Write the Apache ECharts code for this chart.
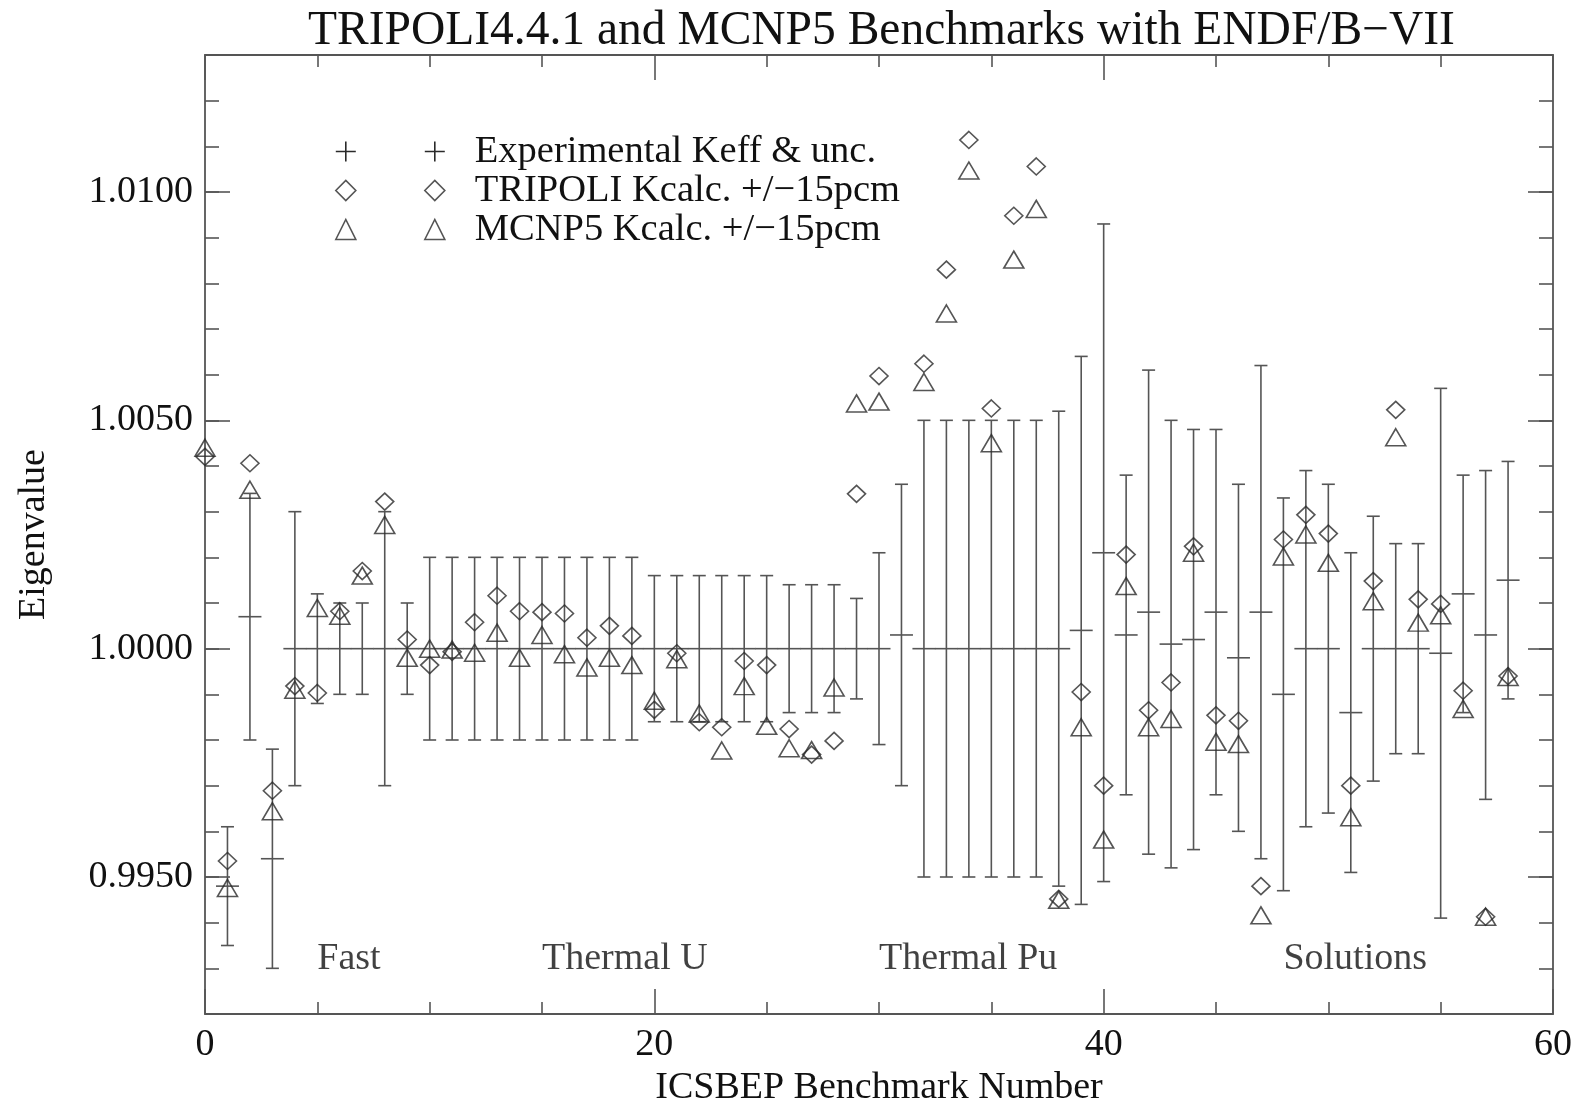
<!DOCTYPE html>
<html><head><meta charset="utf-8">
<script src="https://cdn.jsdelivr.net/npm/echarts@6/dist/echarts.min.js"></script>
<style>html,body{margin:0;padding:0;background:#fff}#c{width:1590px;height:1104px}</style>
</head><body><div id="c"></div>
<script>
// ICSBEP benchmark numbers
const benchmarkNumbers = [0,1,2,3,4,5,6,7,8,9,10,11,12,13,14,15,16,17,18,19,20,21,22,23,24,25,26,27,28,29,30,31,32,33,34,35,36,37,38,39,40,41,42,43,44,45,46,47,48,49,50,51,52,53,54,55,56,57,58];
// Experimental Keff and its uncertainty
const expKeff = [null,0.9948,1.0007,0.9954,1.0000,1.0000,1.0000,1.0000,1.0000,1.0000,
  1.0000,1.0000,1.0000,1.0000,1.0000,1.0000,1.0000,1.0000,1.0000,1.0000,
  1.0000,1.0000,1.0000,1.0000,1.0000,1.0000,1.0000,1.0000,1.0000,1.0000,
  1.0000,1.0003,1.0000,1.0000,1.0000,1.0000,1.0000,1.0000,1.0000,1.0004,
  1.0021,1.0003,1.0008,1.0001,1.0002,1.0008,0.9998,1.0008,0.9990,1.0000,
  1.0000,0.9986,1.0000,1.0000,1.0000,0.9999,1.0012,1.0003,1.0015];
const expUnc = [null,0.0013,0.0027,0.0024,0.0030,0.0012,0.0010,0.0010,0.0030,0.0010,
  0.0020,0.0020,0.0020,0.0020,0.0020,0.0020,0.0020,0.0020,0.0020,0.0020,
  0.0016,0.0016,0.0016,0.0016,0.0016,0.0016,0.0014,0.0014,0.0014,0.0011,
  0.0021,0.0033,0.0050,0.0050,0.0050,0.0050,0.0050,0.0050,0.0052,0.0060,
  0.0072,0.0035,0.0053,0.0049,0.0046,0.0040,0.0038,0.0054,0.0043,0.0039,
  0.0036,0.0035,0.0029,0.0023,0.0023,0.0058,0.0026,0.0036,0.0026];
// TRIPOLI Kcalc
const tripoliKcalc = [1.0042,0.99535,1.00406,0.99689,0.99918,0.99903,1.00082,1.0017,1.00322,1.0002,
  0.99964,0.99993,1.00058,1.00116,1.00082,1.0008,1.00077,1.00024,1.0005,1.00028,
  0.99866,0.9999,0.99839,0.99828,0.99973,0.99964,0.99824,0.99768,0.99798,1.00339,
  1.00597,null,1.00624,1.0083,1.01114,1.00526,1.00948,1.01056,0.99452,0.99905,
  0.9970,1.00206,0.99865,0.99926,1.00224,0.99854,0.99842,0.9948,1.00239,1.00293,
  1.00252,0.9970,1.00148,1.00523,1.00108,1.00098,0.99908,0.99413,0.9994];
// MCNP5 Kcalc
const mcnp5Kcalc = [1.0044,0.99476,1.00348,0.99644,0.9991,1.00089,1.00072,1.0016,1.00271,0.9998,
  1.0000,0.99998,0.99991,1.00035,0.9998,1.0003,0.99988,0.99959,0.9998,0.99964,
  0.99886,0.99977,0.99858,0.99777,0.99918,0.99831,0.99782,0.99778,0.99915,1.00537,
  1.00541,null,1.00584,1.00734,1.01047,1.0045,1.00852,1.00963,0.9945,0.99828,
  0.99582,1.00137,0.99828,0.99846,1.0021,0.99796,0.99791,0.99416,1.00202,1.0025,
  1.00188,0.99631,1.00104,1.00463,1.00057,1.00073,0.99868,0.99413,0.99938];
// axis ticks
const yMajorTicks = [0.995, 1.0, 1.005, 1.01];
const xMajorTicks = [0, 20, 40, 60];
// region annotations
const regionNames = ['Fast', 'Thermal U', 'Thermal Pu', 'Solutions'];
const regionStartX = [5, 15, 30, 48];
const regionLabelY = 0.99278;

const SERIF = "'Liberation Serif','DejaVu Serif','Times New Roman',serif";
const LINE = '#555';
const MARK = '#2a2a2a';

const errData = [];
const triData = [];
const mcnpData = [];
benchmarkNumbers.forEach((n, i) => {
  if (expKeff[i] != null) errData.push([n, expKeff[i], expUnc[i]]);
  if (tripoliKcalc[i] != null) triData.push([n, tripoliKcalc[i]]);
  if (mcnp5Kcalc[i] != null) mcnpData.push([n, mcnp5Kcalc[i]]);
});
const labelData = regionNames.map((nm, i) => ({name: nm, value: [regionStartX[i], regionLabelY]}));

const chart = echarts.init(document.getElementById('c'), null, {renderer: 'canvas'});
const yBase = {type: 'value', min: 0.992, max: 1.013, splitLine: {show: false}};
const option = {
  animation: false,
  backgroundColor: '#fff',
  title: {
    text: 'TRIPOLI4.4.1 and MCNP5 Benchmarks with ENDF/B\u2212VII',
    left: 303, top: 3,
    textStyle: {fontFamily: SERIF, fontSize: 47.5, fontWeight: 'normal', color: '#111'}
  },
  grid: {left: 205, right: 37, top: 55, bottom: 90, outerBoundsMode: 'none'},
  legend: {
    orient: 'vertical', left: 330, top: 127, itemGap: 0, itemWidth: 109, itemHeight: 20,
    selectedMode: false,
    textStyle: {fontFamily: SERIF, fontSize: 38.5, color: '#111', lineHeight: 38.5, padding: [0, 0, 0, 25]},
    data: [
      {name: 'Experimental Keff & unc.', icon: 'path://M0,10L20,10M10,0L10,20M89,10L109,10M99,0L99,20',
        itemStyle: {color: 'rgba(0,0,0,0)', borderColor: MARK, borderWidth: 1.6}},
      {name: 'TRIPOLI Kcalc. +/\u221215pcm', icon: 'path://M0,10L10,0L20,10L10,20ZM89,10L99,0L109,10L99,20Z',
        itemStyle: {color: 'rgba(0,0,0,0)', borderColor: MARK, borderWidth: 1.6}},
      {name: 'MCNP5 Kcalc. +/\u221215pcm', icon: 'path://M0,20L10,0L20,20ZM89,20L99,0L109,20Z',
        itemStyle: {color: 'rgba(0,0,0,0)', borderColor: MARK, borderWidth: 1.6}}
    ]
  },
  xAxis: [
    {type: 'value', position: 'bottom', min: 0, max: 60, interval: 20,
      name: 'ICSBEP Benchmark Number', nameLocation: 'middle', nameGap: 55,
      nameTextStyle: {fontFamily: SERIF, fontSize: 38, color: '#111'},
      axisLine: {show: true, lineStyle: {color: LINE, width: 1.8}},
      axisTick: {show: true, inside: true, length: 25, lineStyle: {color: LINE, width: 1.6}},
      minorTick: {show: true, splitNumber: 4, length: 12, lineStyle: {color: LINE, width: 1.6}},
      axisLabel: {fontFamily: SERIF, fontSize: 38, color: '#111', margin: 12},
      splitLine: {show: false}},
    {type: 'value', position: 'top', min: 0, max: 60, interval: 20,
      axisLine: {show: true, lineStyle: {color: LINE, width: 1.8}},
      axisTick: {show: true, inside: true, length: 25, lineStyle: {color: LINE, width: 1.6}},
      minorTick: {show: true, splitNumber: 4, length: 12, lineStyle: {color: LINE, width: 1.6}},
      axisLabel: {show: false}, splitLine: {show: false}}
  ],
  yAxis: [
    Object.assign({}, yBase, {position: 'left', interval: 0.001,
      name: 'Eigenvalue', nameLocation: 'middle', nameGap: 152,
      nameTextStyle: {fontFamily: SERIF, fontSize: 38, color: '#111'},
      axisLine: {show: true, lineStyle: {color: LINE, width: 1.8}},
      axisTick: {show: true, inside: true, length: 14, lineStyle: {color: LINE, width: 1.6}},
      axisLabel: {fontFamily: SERIF, fontSize: 38, color: '#111', margin: 12,
        formatter: v => (Math.round(v * 1000) % 5 === 0 ? v.toFixed(4) : '')}}),
    Object.assign({}, yBase, {position: 'left',
      axisLine: {show: false},
      axisTick: {show: true, inside: true, length: 25, customValues: yMajorTicks, lineStyle: {color: LINE, width: 1.6}},
      axisLabel: {show: false, customValues: yMajorTicks}}),
    Object.assign({}, yBase, {position: 'right', interval: 0.001,
      axisLine: {show: true, lineStyle: {color: LINE, width: 1.8}},
      axisTick: {show: true, inside: true, length: 14, lineStyle: {color: LINE, width: 1.6}},
      axisLabel: {show: false}}),
    Object.assign({}, yBase, {position: 'right',
      axisLine: {show: false},
      axisTick: {show: true, inside: true, length: 25, customValues: yMajorTicks, lineStyle: {color: LINE, width: 1.6}},
      axisLabel: {show: false, customValues: yMajorTicks}})
  ],
  series: [
    {
      name: 'Experimental Keff & unc.', type: 'custom', xAxisIndex: 0, yAxisIndex: 0,
      data: errData, clip: true,
      renderItem: function (params, api) {
        const x = api.value(0), c = api.value(1), u = api.value(2);
        const top = api.coord([x, c + u]);
        const bot = api.coord([x, c - u]);
        const mid = api.coord([x, c]);
        const st = {stroke: LINE, lineWidth: 1.6};
        return {type: 'group', children: [
          {type: 'line', shape: {x1: top[0], y1: top[1], x2: bot[0], y2: bot[1]}, style: st},
          {type: 'line', shape: {x1: top[0] - 6.5, y1: top[1], x2: top[0] + 6.5, y2: top[1]}, style: st},
          {type: 'line', shape: {x1: bot[0] - 6.5, y1: bot[1], x2: bot[0] + 6.5, y2: bot[1]}, style: st},
          {type: 'line', shape: {x1: mid[0] - 11.5, y1: mid[1], x2: mid[0] + 11.5, y2: mid[1]}, style: st}
        ]};
      }
    },
    {
      name: 'TRIPOLI Kcalc. +/\u221215pcm', type: 'scatter', xAxisIndex: 0, yAxisIndex: 0,
      data: triData, symbol: 'diamond', symbolSize: [18, 17],
      itemStyle: {color: 'rgba(0,0,0,0)', borderColor: MARK, borderWidth: 1.6}
    },
    {
      name: 'MCNP5 Kcalc. +/\u221215pcm', type: 'scatter', xAxisIndex: 0, yAxisIndex: 0,
      data: mcnpData, symbol: 'triangle', symbolSize: [20, 17],
      itemStyle: {color: 'rgba(0,0,0,0)', borderColor: MARK, borderWidth: 1.6}
    },
    {
      name: 'regions', type: 'scatter', xAxisIndex: 0, yAxisIndex: 0,
      data: labelData, symbolSize: 0, silent: true,
      itemStyle: {color: 'rgba(0,0,0,0)'},
      label: {show: true, formatter: '{b}', position: [0, 0], align: 'left', verticalAlign: 'bottom',
        fontFamily: SERIF, fontSize: 38, color: '#111'}
    }
  ]
};
chart.setOption(option);
</script>
</body></html>
